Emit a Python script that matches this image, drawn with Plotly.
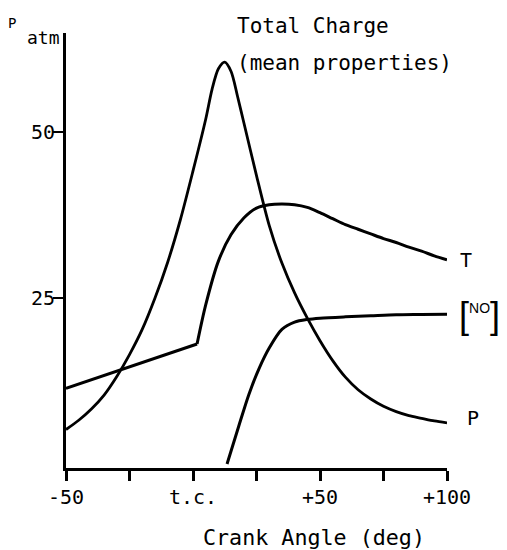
import plotly.graph_objects as go

# Pressure trace P (atm) against crank angle
p_angle = [-50, -45, -40, -35, -30, -25, -20, -15, -10, -5, 0, 5, 7.5, 10, 12.5, 15, 17.5,
           20, 25, 30, 35, 40, 45, 50, 55, 60, 65, 70, 75, 80, 85, 90, 95, 100]
p_value = [5.2, 6.6, 8.3, 10.4, 13.2, 16.5, 20.3, 25.0, 30.4, 36.8, 44.2, 52.0, 56.5,
           59.6, 60.6, 59.2, 55.5, 51.5, 43.5, 36.0, 30.3, 25.8, 22.0, 18.6, 15.6, 13.1,
           11.2, 9.8, 8.7, 7.9, 7.3, 6.9, 6.5, 6.2]

# Mean charge temperature T (arbitrary scale); compression part is straight up to the kink
t_angle = [-50, -25.2, 1.6, 5, 10, 15, 20, 25, 30, 35, 40, 45, 50, 55, 60, 65, 70, 75,
           80, 85, 90, 95, 100]
t_value = [11.4, 14.6, 18.1, 24.0, 30.6, 34.6, 37.1, 38.6, 39.1, 39.2, 39.1, 38.7, 37.9,
           37.0, 36.1, 35.4, 34.7, 34.0, 33.4, 32.7, 32.1, 31.4, 30.8]
t_kink = 2  # index of the kink where combustion starts

# Nitric oxide concentration [NO] (arbitrary scale)
no_angle = [13.4, 18, 22, 26, 30, 35, 40, 45, 50, 60, 70, 80, 90, 100]
no_value = [0.0, 5.7, 10.5, 14.4, 17.5, 20.3, 21.4, 21.8, 22.0, 22.2, 22.35, 22.5, 22.55, 22.6]

x_tickvals = [-50, 0, 50, 100]
x_ticktext = ["-50", "t.c.", "+50", "+100"]
y_tickvals = [25, 50]
y_ticktext = ["25", "50"]

FONT = "DejaVu Sans Mono"
W, H = 507, 550
L, R, T, B = 66, 447, 33, 468  # plot area in pixels


def paper(xp, yp):
    return (xp - L) / (R - L), (B - yp) / (B - T)


curve = dict(color="black", width=3, shape="spline", smoothing=0.8)
fig = go.Figure()
fig.add_trace(go.Scatter(x=p_angle, y=p_value, mode="lines", line=dict(curve, width=2.8)))
fig.add_trace(go.Scatter(x=t_angle[:t_kink + 1], y=t_value[:t_kink + 1], mode="lines",
                         line=dict(color="black", width=3)))
fig.add_trace(go.Scatter(x=t_angle[t_kink:], y=t_value[t_kink:], mode="lines", line=curve))
fig.add_trace(go.Scatter(x=no_angle, y=no_value, mode="lines", line=curve))

annotations = []


def label(text, xp, yp, size, xanchor="center", yanchor="middle", family=FONT):
    xx, yy = paper(xp, yp)
    annotations.append(dict(text=text, x=xx, y=yy, xref="paper", yref="paper",
                            xanchor=xanchor, yanchor=yanchor, showarrow=False,
                            font=dict(family=family, size=size, color="black")))


label("P", 12, 23, 14)
label("atm", 43, 38, 18)
label("Total Charge", 235, 26, 21, xanchor="left")
label("(mean properties)", 235, 63, 21, xanchor="left")
label("T", 466, 260, 20)
label("[<sup><span style='font-size:14px'>NO</span></sup>]", 479, 315, 36, family="Liberation Sans")
label("P", 473, 418, 20)
label("Crank Angle (deg)", 314, 537, 21.7)

fig.update_layout(
    width=W, height=H,
    margin=dict(l=L, r=W - R, t=T, b=H - B, pad=0),
    paper_bgcolor="white", plot_bgcolor="white",
    showlegend=False,
    font=dict(family=FONT, size=20, color="black"),
    annotations=annotations,
    xaxis=dict(range=[-50, 100], showgrid=False, zeroline=False,
               showline=True, linecolor="black", linewidth=3,
               ticks="outside", ticklen=10, tickwidth=2.5, tickcolor="black",
               tickvals=x_tickvals, ticktext=x_ticktext,
               minor=dict(ticks="outside", ticklen=10, tickwidth=2.5, tickcolor="black",
                          tick0=-50, dtick=25, showgrid=False),
               tickfont=dict(family=FONT, size=20), ticklabelstandoff=-1),
    yaxis=dict(range=[-0.6, 65], showgrid=False, zeroline=False,
               showline=True, linecolor="black", linewidth=3,
               ticks="outside", ticklen=10, tickwidth=2, tickcolor="black",
               tickvals=y_tickvals, ticktext=y_ticktext,
               tickfont=dict(family=FONT, size=20), ticklabelstandoff=-6),
)

fig.write_html("out.html")
